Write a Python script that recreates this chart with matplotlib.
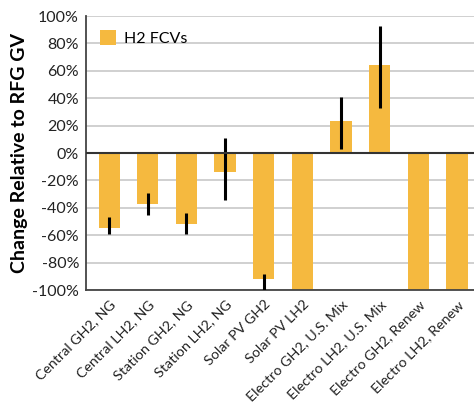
import matplotlib.pyplot as plt
import numpy as np

categories = ['Central GH2, NG', 'Central LH2, NG', 'Station GH2, NG', 'Station LH2, NG',
              'Solar PV GH2', 'Solar PV LH2', 'Electro GH2, U.S. Mix', 'Electro LH2, U.S. Mix',
              'Electro GH2, Renew', 'Electro LH2, Renew']
values = [-55, -37, -52, -14, -92, -100, 23, 64, -100, -100]
err_low = [-59, -45, -59, -34, -105, None, 3, 33, None, None]
err_high = [-47, -29, -44, 11, -88, None, 41, 93, None, None]

plt.rcParams['font.family'] = ['Lato', 'DejaVu Sans']

fig = plt.figure(figsize=(4.74, 4.11), dpi=100)
ax = fig.add_axes([86 / 474, 1 - 290 / 411, 388 / 474, 274 / 411])

x = np.arange(len(categories))
bars = ax.bar(x, values, width=0.55, color='#F5B93F', label='H2 FCVs', zorder=2)

for xi, lo, hi in zip(x, err_low, err_high):
    if lo is None:
        continue
    ax.plot([xi, xi], [lo, hi], color='black', lw=2.2, zorder=3, solid_capstyle='butt')

ax.axhline(0, color='#333333', lw=1.5, zorder=4)
ax.set_ylim(-100, 100)
ax.set_xlim(-0.6, 9.44)
ax.set_yticks(np.arange(-100, 101, 20))
ax.set_yticklabels([f'{v}%' for v in range(-100, 101, 20)], fontsize=11.5, color='#222222')
ax.set_xticks(x)
ax.set_xticklabels(categories, rotation=45, ha='right', rotation_mode='anchor',
                   fontsize=10.3, color='#222222')
ax.tick_params(length=0, pad=5)
ax.tick_params(axis='x', pad=6)
ax.yaxis.grid(True, color='#c8c8c8', lw=1.2, zorder=0)
ax.set_axisbelow(True)
for s in ['top', 'right']:
    ax.spines[s].set_visible(False)
for s in ['left', 'bottom']:
    ax.spines[s].set_color('#444444')
    ax.spines[s].set_linewidth(1.3)

ax.set_ylabel('Change Relative to RFG GV', fontsize=14, fontweight='bold', labelpad=3)
ax.legend(loc='upper left', frameon=False, fontsize=11.5, handlelength=1.0, handleheight=1.1,
          borderaxespad=0.35, borderpad=0.5, handletextpad=0.5)

fig.savefig('out.png', dpi=100)
